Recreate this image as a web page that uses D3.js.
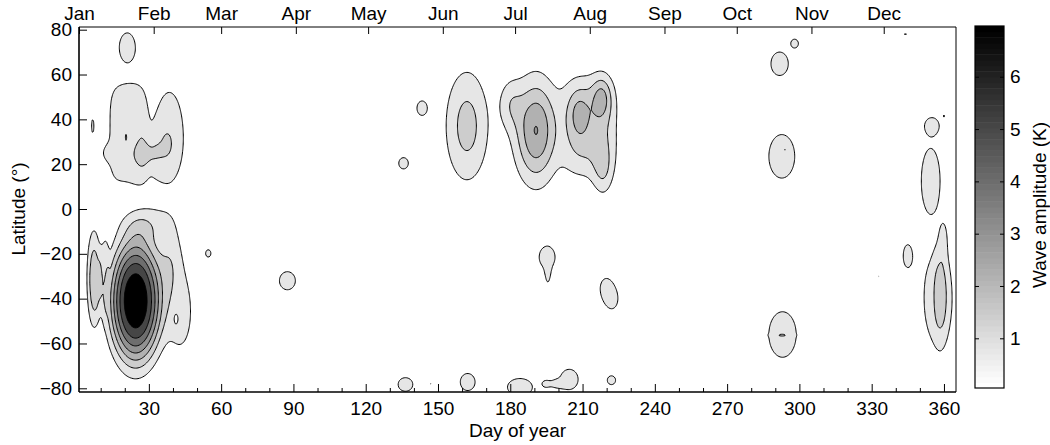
<!DOCTYPE html>
<html>
<head>
<meta charset="utf-8">
<script src="https://cdn.jsdelivr.net/npm/d3@7"></script>
<style>
  body { margin: 0; background: #fff; }
  text { font-family: "Liberation Sans", Arial, Helvetica, sans-serif; }
</style>
</head>
<body>
<svg id="chart" width="1050" height="445"></svg>
<script>
// Contour levels of wave amplitude (K) and the grey used above each level
const levels = [0.9, 1.8, 2.7, 3.6, 4.5, 5.4, 6.3];
const levelFills = ["#e6e6e6", "#cdcdcd", "#b1b1b1", "#929292", "#6e6e6e", "#464646", "#000000"];

const monthNames = ["Jan", "Feb", "Mar", "Apr", "May", "Jun", "Jul", "Aug", "Sep", "Oct", "Nov", "Dec"];
const monthStartDays = [1, 32, 60, 91, 121, 152, 182, 213, 244, 274, 305, 335];
const dayTicks = [30, 60, 90, 120, 150, 180, 210, 240, 270, 300, 330, 360];
const dayMinorTicks = [10, 20, 40, 50, 70, 80, 100, 110, 130, 140, 160, 170, 190, 200, 220, 230, 250, 260, 280, 290, 310, 320, 340, 350];
const latTicks = [-80, -60, -40, -20, 0, 20, 40, 60, 80];
const ampTicks = [1, 2, 3, 4, 5, 6];
const ampRange = [0.05, 6.97];

// Wave packets: [day, latitude, day spread, latitude spread, peak amplitude (K), flatness, squareness]
const janSouth = [
  [24.5, -41, 8.2, 21, 7.0, 1.4],
  [7.2, -31, 2.6, 19, 1.95, 2],
  [11.5, -28, 1.8, 18, 0.8, 2],
  [28, -7, 6.5, 5.5, 1.2],
  [39, -22, 3.5, 11, 1.2],
  [43, -46, 4.5, 15, 1.4],
  [41.3, -48.7, 0.95, 2.6, -0.8]
];
const janNorth = [
  [21, 33.5, 7.5, 22, 1.3, 3, 4],
  [38.5, 32.5, 6.6, 22.7, 1.3],
  [30, 24, 4, 10, 0.6],
  [29.5, 24.5, 3.5, 3, 0.8],
  [34, 26.5, 2, 2.5, 0.25],
  [37.7, 29, 2.5, 6, 0.6],
  [20.5, 32, 0.5, 2, 0.55],
  [12.5, 25, 2, 3, 1.0],
  [21, 72, 3.8, 7.6, 1.3],
  [6.7, 37, 1.1, 6.5, 1.0]
];
const springPatches = [
  [54.7, -19.8, 2.2, 3.3, 1.0],
  [87.5, -32, 3.85, 4.7, 1.3],
  [143.3, 45, 2.6, 4, 1.2],
  [135.7, 20.4, 2.6, 3.3, 1.2]
];
const summerNorth = [
  [162, 37, 6.5, 18.1, 2.16],
  [190.7, 35, 6.1, 15.8, 3.62],
  [180, 47, 3.5, 8, 1.2],
  [213, 37, 9, 18, 2.2, 1.5, 3],
  [208.5, 42, 3, 7, 1.15],
  [218, 50, 2.8, 6.5, 1.55],
  [218.5, 16, 3, 8, 1.2]
];
const summerSouth = [
  [195.3, -21.5, 3.8, 5.5, 1.3],
  [195.6, -29, 0.9, 4.5, 1.0],
  [219.5, -34.5, 3.2, 5.5, 0.95],
  [222.5, -41, 3.2, 5.5, 0.95]
];
const polarSouth = [
  [136.5, -78.3, 4, 4, 1.2],
  [147, -78, 0.4, 0.4, 0.95],
  [162.3, -77.2, 4, 5, 1.2],
  [184, -79.5, 6, 4.5, 1.3],
  [194.8, -78, 1.2, 1.2, 1.0],
  [204.5, -76, 4.5, 5.5, 1.25],
  [199, -78, 2.5, 1.3, 1.0],
  [222, -76.4, 2.7, 3.1, 1.1]
];
const autumnPatches = [
  [298, 73.8, 2, 2.5, 1.1, 2],
  [291.8, 64.8, 4, 5.8, 1.25, 2],
  [292.7, 23.5, 5.3, 9.6, 1.5],
  [294, 26.4, 0.4, 0.6, 0.45],
  [293, -56, 5.8, 10.4, 1.45],
  [292.7, -56.3, 2.8, 0.6, 0.45]
];
const decemberPatches = [
  [344, 78, 1.0, 0.5, 1.0],
  [355, 37, 3.45, 4.3, 1.2, 2],
  [360, 41.5, 0.6, 1.0, 1.0],
  [354.5, 12.5, 4.2, 15.7, 1.3, 2],
  [345, -21, 3, 8, 1.1],
  [333, -30, 0.35, 0.35, 0.95],
  [344.8, -41.7, 0.5, 0.5, 0.95],
  [357.5, -40, 5.8, 20, 1.45, 1.5],
  [358.7, -37, 2.6, 21, 0.7, 1.5],
  [359.8, -12, 1.3, 6, 1.0]
];

const svg = d3.select("#chart");
const plot = { left: 79, right: 956, top: 27, bottom: 392 };
const x = d3.scaleLinear().domain([1, 365]).range([plot.left, plot.right]);
const y = d3.scaleLinear().domain([-80, 80]).range([388.3, 29.7]);

// Amplitude field on a regular day/latitude grid (super-Gaussian packets)
const step = 0.5, dMin = -6, dMax = 372, latMin = -92, latMax = 92;
const nx = Math.round((dMax - dMin) / step) + 1;
const ny = Math.round((latMax - latMin) / step) + 1;
const field = new Array(nx * ny).fill(0);
const packets = [].concat(janSouth, janNorth, springPatches, summerNorth, summerSouth, polarSouth, autumnPatches, decemberPatches);
for (const [d0, l0, sd, sl, amp, p = 1, q = 2] of packets) {
  const reach = 5;
  const i0 = Math.max(0, Math.floor((d0 - reach * sd - dMin) / step));
  const i1 = Math.min(nx - 1, Math.ceil((d0 + reach * sd - dMin) / step));
  const j0 = Math.max(0, Math.floor((latMax - (l0 + reach * sl)) / step));
  const j1 = Math.min(ny - 1, Math.ceil((latMax - (l0 - reach * sl)) / step));
  for (let j = j0; j <= j1; j++) {
    const ll = Math.pow(Math.abs((latMax - j * step - l0) / sl), q);
    for (let i = i0; i <= i1; i++) {
      const dd = Math.pow(Math.abs((dMin + i * step - d0) / sd), q);
      const s = Math.pow(dd + ll, 2 / q);
      field[j * nx + i] += amp * Math.exp(-0.5 * Math.pow(s, p));
    }
  }
}

const contours = d3.contours().size([nx, ny]).thresholds(levels)(field);
const gridToScreen = d3.geoTransform({
  point(px, py) {
    this.stream.point(x(dMin + (px - 0.5) * step), y(latMax - (py - 0.5) * step));
  }
});
const path = d3.geoPath(gridToScreen);

svg.append("defs").append("clipPath").attr("id", "plotClip")
  .append("rect")
  .attr("x", plot.left).attr("y", plot.top)
  .attr("width", plot.right - plot.left).attr("height", plot.bottom - plot.top);

svg.append("g").attr("clip-path", "url(#plotClip)")
  .selectAll("path")
  .data(contours)
  .join("path")
  .attr("d", path)
  .attr("fill", (d, i) => levelFills[i])
  .attr("fill-rule", "evenodd")
  .attr("stroke", "#000")
  .attr("stroke-width", 1)
  .attr("stroke-linejoin", "round");

// Axes
const fontSize = 19;
function styleAxis(g) {
  g.select(".domain").remove();
  g.attr("font-size", fontSize).attr("font-family", null);
  g.selectAll("line").attr("stroke", "#000");
  g.selectAll("text").attr("fill", "#000");
}

svg.append("g")
  .attr("transform", `translate(0,${plot.bottom})`)
  .call(d3.axisBottom(x).tickValues(dayTicks).tickSize(-8).tickSizeOuter(0).tickPadding(10))
  .call(styleAxis);

svg.append("g")
  .attr("transform", `translate(0,${plot.bottom})`)
  .call(d3.axisBottom(x).tickValues(dayMinorTicks).tickSize(-4).tickSizeOuter(0).tickFormat(""))
  .call(styleAxis);

svg.append("g")
  .attr("transform", `translate(${plot.left},0)`)
  .call(d3.axisLeft(y).tickValues(latTicks).tickSize(-8).tickSizeOuter(0).tickPadding(7))
  .call(styleAxis);

svg.append("g")
  .attr("transform", `translate(0,${plot.top})`)
  .call(d3.axisTop(x).tickValues(monthStartDays).tickSize(-7).tickSizeOuter(0).tickPadding(7)
    .tickFormat((d, i) => monthNames[i]))
  .call(styleAxis);

// Plot frame
const frame = svg.append("g").attr("stroke", "#000").attr("fill", "none");
frame.append("line").attr("x1", plot.left).attr("x2", plot.right).attr("y1", plot.top).attr("y2", plot.top).attr("stroke-width", 1);
frame.append("line").attr("x1", plot.right).attr("x2", plot.right).attr("y1", plot.top).attr("y2", plot.bottom).attr("stroke-width", 1);
frame.append("line").attr("x1", plot.left).attr("x2", plot.right).attr("y1", plot.bottom).attr("y2", plot.bottom).attr("stroke-width", 1.6);
frame.append("line").attr("x1", plot.left).attr("x2", plot.left).attr("y1", plot.top).attr("y2", plot.bottom).attr("stroke-width", 1.6);

// Axis titles
svg.append("text")
  .attr("x", (plot.left + plot.right) / 2).attr("y", 437)
  .attr("text-anchor", "middle").attr("font-size", fontSize)
  .text("Day of year");

svg.append("text")
  .attr("transform", "translate(25,209) rotate(-90)")
  .attr("text-anchor", "middle").attr("font-size", fontSize)
  .text("Latitude (°)");

// Colour bar
const cb = { left: 975, right: 1004, top: 26, bottom: 388 };
const cScale = d3.scaleLinear().domain(ampRange).range([cb.bottom, cb.top]);
const nSteps = 64;
const stepVal = (ampRange[1] - ampRange[0]) / nSteps;
const cbSteps = d3.range(nSteps);
const stepGrey = k => { const g = Math.round(255 * (1 - k / (nSteps - 1))); return d3.rgb(g, g, g).formatHex(); };
svg.append("g")
  .selectAll("rect")
  .data(cbSteps)
  .join("rect")
  .attr("x", cb.left)
  .attr("width", cb.right - cb.left)
  .attr("y", k => cScale(ampRange[0] + (k + 1) * stepVal))
  .attr("height", k => cScale(ampRange[0] + k * stepVal) - cScale(ampRange[0] + (k + 1) * stepVal) + 0.5)
  .attr("fill", stepGrey);

svg.append("rect")
  .attr("x", cb.left).attr("y", cb.top)
  .attr("width", cb.right - cb.left).attr("height", cb.bottom - cb.top)
  .attr("fill", "none").attr("stroke", "#000").attr("stroke-width", 1.2);

svg.append("g")
  .attr("transform", `translate(${cb.right},0)`)
  .call(d3.axisRight(cScale).tickValues(ampTicks).tickSize(-4).tickSizeOuter(0).tickPadding(6).tickFormat(d3.format("d")))
  .call(styleAxis);

svg.append("g")
  .attr("transform", `translate(${cb.left},0)`)
  .call(d3.axisLeft(cScale).tickValues(ampTicks).tickSize(-4).tickSizeOuter(0).tickFormat(""))
  .call(styleAxis);

svg.append("text")
  .attr("transform", "translate(1046,205) rotate(-90)")
  .attr("text-anchor", "middle").attr("font-size", fontSize)
  .text("Wave amplitude (K)");
</script>
</body>
</html>
